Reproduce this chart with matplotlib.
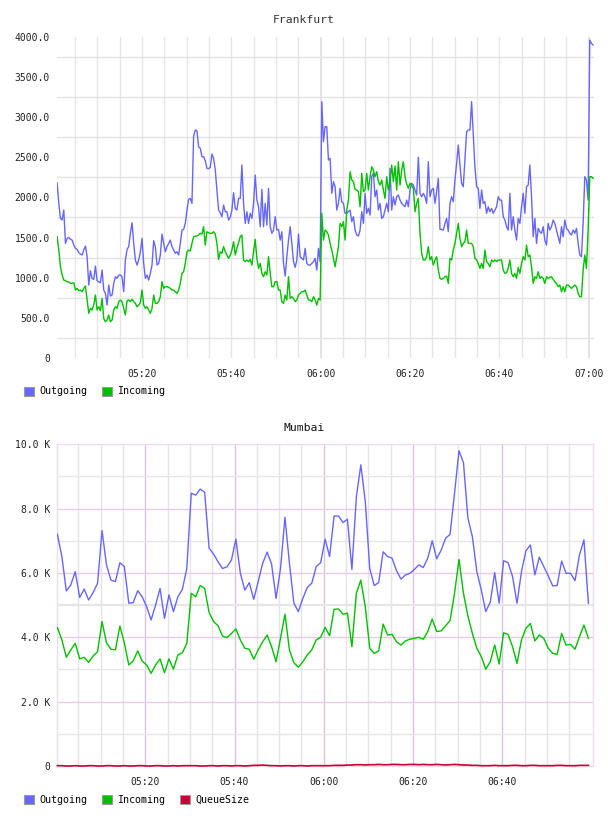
import numpy as np
import matplotlib
matplotlib.use('Agg')
import matplotlib.pyplot as plt
from matplotlib.patches import Patch

# ---------------- data ----------------
# Frankfurt (values, evenly spaced samples from ~05:01 to ~07:01)
fra_out = [
    2180, 1925, 1738, 1718, 1842, 1427, 1489, 1502, 1477, 1468,
    1406, 1365, 1352, 1311, 1294, 1282, 1344, 1394, 1261, 908,
    1087, 991, 979, 1145, 962, 950, 937, 1095, 846, 805,
    659, 908, 771, 784, 929, 1012, 991, 1033, 1033, 1012,
    825, 1220, 1352, 1386, 1552, 1684, 1427, 1220, 1157, 1220,
    1323, 1489, 1178, 991, 1033, 970, 1053, 1157, 1460, 1386,
    1157, 1178, 1282, 1543, 1427, 1323, 1386, 1427, 1468, 1386,
    1344, 1303, 1323, 1282, 1427, 1593, 1601, 1676, 1842, 1975,
    1987, 1925, 2763, 2838, 2830, 2630, 2610, 2506, 2506, 2456,
    2361, 2357, 2373, 2539, 2485, 2340, 2091, 1842, 1809, 1759,
    1904, 1821, 1821, 1718, 1751, 1842, 2058, 1863, 1842, 1987,
    1987, 2402, 1925, 1676, 1821, 1676, 1801, 1738, 1925, 2278,
    1966, 1883, 1635, 2099, 1635, 1925, 1655, 2112, 1635, 1552,
    1593, 1759, 1593, 1601, 1468, 1572, 1178, 1020, 1261, 1468,
    1635, 1427, 1199, 1128, 1220, 1543, 1261, 1240, 1220, 1365,
    1178, 1157, 1157, 1178, 1199, 1240, 1095, 1365, 1199, 3191,
    2693, 2880, 2880, 2464, 2485, 2050, 2195, 2133, 1842, 1925,
    2112, 1946, 1925, 1801, 1801, 1821, 1842, 1697, 1759, 1593,
    1531, 1518, 1593, 1821, 1676, 2050, 1801, 1863, 1780, 2257,
    2299, 2008, 2091, 1842, 1925, 1738, 1759, 1842, 1925, 1821,
    2361, 1842, 2008, 1904, 2008, 2029, 1966, 1925, 1904, 1883,
    1966, 1883, 2091, 2174, 2153, 2091, 2029, 2498, 2050, 2008,
    2050, 2008, 1925, 2444, 2008, 2091, 2112, 1925, 2070, 2236,
    1601, 1601, 1593, 1676, 1738, 1572, 1925, 2008, 1946, 2216,
    2423, 2651, 2402, 2174, 2133, 2485, 2817, 2838, 2838, 3191,
    2797, 2381, 2133, 2112, 1863, 2091, 1925, 1946, 1801, 1883,
    1821, 1863, 1801, 1842, 1883, 2008, 1966, 1966, 1759, 1718,
    1635, 1593, 2050, 1593, 1759, 1593, 1468, 1738, 1676, 1883,
    2050, 1801, 2133, 2153, 2402, 2008, 1510, 1738, 1427, 1614,
    1572, 1552, 1635, 1468, 1406, 1676, 1593, 1635, 1718, 1676,
    1593, 1510, 1427, 1635, 1510, 1718, 1614, 1593, 1552, 1531,
    1593, 1552, 1614, 1427, 1282, 1261, 1676, 2257, 2216, 1966,
    3958, 3917, 3896,
]
fra_in = [
    1510, 1344, 1136, 1033, 970, 962, 950, 946, 929, 929,
    937, 846, 867, 838, 846, 825, 867, 896, 722, 556,
    618, 597, 659, 784, 597, 638, 589, 742, 493, 452,
    473, 535, 452, 473, 597, 638, 618, 701, 722, 701,
    618, 535, 713, 722, 701, 730, 701, 680, 638, 659,
    688, 846, 659, 618, 638, 597, 556, 618, 784, 680,
    680, 701, 763, 950, 867, 888, 888, 879, 867, 846,
    846, 825, 805, 846, 929, 1053, 1074, 1178, 1323, 1344,
    1332, 1427, 1510, 1518, 1518, 1531, 1552, 1543, 1635, 1406,
    1572, 1560, 1552, 1552, 1572, 1543, 1427, 1228, 1323, 1303,
    1386, 1323, 1282, 1240, 1282, 1344, 1448, 1282, 1365, 1435,
    1510, 1531, 1220, 1199, 1220, 1199, 1228, 1157, 1323, 1477,
    1240, 1116, 1178, 1053, 1012, 1074, 1033, 1261, 1053, 888,
    888, 950, 950, 846, 846, 701, 680, 784, 722, 1012,
    742, 763, 742, 701, 722, 784, 805, 825, 825, 846,
    784, 722, 722, 701, 763, 722, 659, 742, 722, 1800,
    1468, 1593, 1572, 1531, 1427, 1344, 1240, 1136, 1261, 1386,
    1676, 1635, 1697, 1468, 1842, 1966, 2319, 2216, 2195, 2099,
    2091, 2070, 1883, 2299, 2070, 2091, 2299, 2091, 2257, 2381,
    2340, 2257, 2319, 2195, 2153, 2216, 2091, 1987, 2257, 2091,
    2195, 2402, 2195, 2390, 2091, 2444, 2153, 2340, 2444, 2257,
    2166, 2112, 2174, 2153, 2112, 1821, 1925, 1987, 1552, 1303,
    1220, 1220, 1261, 1386, 1220, 1261, 1157, 1220, 1261, 1095,
    991, 979, 991, 1012, 1020, 929, 1240, 1220, 1344, 1427,
    1552, 1676, 1489, 1386, 1427, 1448, 1593, 1427, 1427, 1427,
    1386, 1240, 1220, 1178, 1116, 1178, 1116, 1344, 1199, 1178,
    1136, 1220, 1199, 1220, 1199, 1220, 1220, 1220, 1095, 1053,
    1062, 1116, 1220, 1053, 1012, 1053, 991, 1128, 1053, 1178,
    1261, 1220, 1406, 1261, 1282, 1136, 929, 1012, 991, 1074,
    991, 1012, 991, 929, 1012, 991, 1004, 1012, 979, 950,
    929, 888, 908, 825, 888, 825, 908, 908, 888, 867,
    888, 908, 888, 805, 763, 763, 1095, 1282, 1116, 1593,
    2257, 2257, 2236,
]
fra_yticks = [0, 500, 1000, 1500, 2000, 2500, 3000, 3500, 4000]
fra_ylabels = ['0', '500.0', '1000.0', '1500.0', '2000.0', '2500.0',
               '3000.0', '3500.0', '4000.0']

# Mumbai (K, one sample per minute from 05:00)
mum_out = [
    7.20, 6.51, 5.44, 5.63, 6.04, 5.24, 5.50, 5.16, 5.39, 5.68,
    7.32, 6.25, 5.78, 5.73, 6.32, 6.20, 5.06, 5.08, 5.45, 5.26,
    4.95, 4.54, 5.00, 5.52, 4.59, 5.32, 4.80, 5.26, 5.49, 6.14,
    8.48, 8.42, 8.61, 8.51, 6.77, 6.59, 6.35, 6.14, 6.19, 6.40,
    7.05, 5.99, 5.47, 5.70, 5.18, 5.73, 6.30, 6.65, 6.28, 5.21,
    6.14, 7.73, 6.30, 5.06, 4.80, 5.21, 5.55, 5.68, 6.20,
    6.32, 7.05, 6.51, 7.77, 7.77, 7.57, 7.67, 6.11, 8.37, 9.36,
    8.22, 6.14, 5.61, 5.70, 6.66, 6.51, 6.46, 6.07, 5.81, 5.94,
    5.99, 6.11, 6.25, 6.17, 6.46, 7.00, 6.44, 6.71, 7.08, 7.20,
    8.48, 9.80, 9.43, 7.70, 7.13, 6.04, 5.47, 4.80, 5.09, 6.01,
    5.06, 6.38, 6.32, 5.89, 5.06, 6.04, 6.69, 6.87, 5.94, 6.49,
    6.20, 5.91, 5.60, 5.61, 6.37, 5.99, 5.99, 5.76, 6.56, 7.03,
    5.06,
]
mum_in = [
    4.30, 3.92, 3.38, 3.61, 3.81, 3.33, 3.38, 3.22, 3.42, 3.55,
    4.49, 3.83, 3.63, 3.61, 4.35, 3.83, 3.14, 3.27, 3.58, 3.26,
    3.14, 2.88, 3.14, 3.33, 2.90, 3.33, 3.01, 3.45, 3.52, 3.81,
    5.37, 5.26, 5.61, 5.52, 4.77, 4.49, 4.36, 4.04, 3.99, 4.12,
    4.26, 3.92, 3.66, 3.63, 3.32, 3.61, 3.86, 4.07, 3.71, 3.24,
    3.97, 4.72, 3.61, 3.21, 3.07, 3.24, 3.45, 3.61, 3.92,
    4.00, 4.31, 4.05, 4.87, 4.88, 4.72, 4.75, 3.71, 5.37, 5.78,
    4.95, 3.66, 3.50, 3.58, 4.41, 4.07, 4.09, 3.86, 3.76, 3.89,
    3.94, 3.97, 4.00, 3.94, 4.18, 4.57, 4.18, 4.20, 4.36, 4.52,
    5.37, 6.42, 5.37, 4.66, 4.12, 3.66, 3.40, 3.01, 3.24, 3.76,
    3.17, 4.14, 4.09, 3.71, 3.19, 3.92, 4.28, 4.43, 3.89, 4.07,
    3.97, 3.66, 3.50, 3.47, 4.12, 3.76, 3.78, 3.63, 4.02, 4.38,
    3.97,
]
mum_queue = [
    0.01, 0.01, 0.00, 0.00, 0.01, 0.00, 0.00, 0.01, 0.01, 0.00,
    0.00, 0.01, 0.01, 0.00, 0.00, 0.01, 0.00, 0.00, 0.01, 0.01,
    0.00, 0.00, 0.01, 0.01, 0.00, 0.00, 0.01, 0.00, 0.01, 0.01,
    0.01, 0.01, 0.00, 0.00, 0.01, 0.01, 0.00, 0.01, 0.01, 0.00,
    0.01, 0.01, 0.00, 0.01, 0.02, 0.02, 0.03, 0.02, 0.01, 0.01,
    0.00, 0.01, 0.01, 0.00, 0.01, 0.01, 0.00, 0.01, 0.01, 0.01,
    0.01, 0.01, 0.02, 0.02, 0.02, 0.03, 0.03, 0.04, 0.04, 0.03,
    0.04, 0.04, 0.05, 0.04, 0.04, 0.05, 0.05, 0.04, 0.04, 0.05,
    0.05, 0.04, 0.05, 0.04, 0.04, 0.05, 0.04, 0.03, 0.04, 0.05,
    0.04, 0.03, 0.03, 0.02, 0.02, 0.01, 0.01, 0.01, 0.02, 0.01,
    0.01, 0.01, 0.02, 0.02, 0.01, 0.01, 0.02, 0.02, 0.01, 0.01,
    0.01, 0.01, 0.02, 0.02, 0.01, 0.01, 0.01, 0.02, 0.02, 0.02,
]
mum_yticks = [0, 2, 4, 6, 8, 10]
mum_ylabels = ['0', '2.0 K', '4.0 K', '6.0 K', '8.0 K', '10.0 K']

# x axis: minutes after 05:00
fra_xticks = [20, 40, 60, 80, 100, 120]
fra_xlabels = ['05:20', '05:40', '06:00', '06:20', '06:40', '07:00']
mum_xticks = [20, 40, 60, 80, 100]
mum_xlabels = ['05:20', '05:40', '06:00', '06:20', '06:40']

series_names = ['Outgoing', 'Incoming', 'QueueSize']
series_colors = ['#6666ff', '#00c000', '#cc0033']

# ---------------- drawing ----------------
FONT = ['DejaVu Sans Mono', 'DejaVu Sans']
plt.rcParams['font.family'] = FONT
W, H = 608, 816
fig = plt.figure(figsize=(W / 100, H / 100), dpi=100)
TXT = '#222222'


def style_axes(ax):
    ax.tick_params(axis='both', length=0, labelsize=7, colors=TXT)
    ax.tick_params(axis='y', pad=5)
    ax.tick_params(axis='x', pad=8)
    ax.set_axisbelow(True)


# ---- Frankfurt ----
ax1 = fig.add_axes([57 / W, 1 - 358 / H, 537 / W, 321.3 / H])
fra_t = np.linspace(1.0, 121.0, len(fra_out))
for x in np.arange(5, 121, 5):
    hour = (x % 60 == 0)
    ax1.axvline(x, color='#e0e0e0' if hour else '#e6e6e6',
                lw=1.3 if hour else 1.0, zorder=0)
for y in np.arange(250, 4000, 500):
    ax1.axhline(y, color='#e3e3e3', lw=1.0, zorder=0)
ax1.plot(fra_t, fra_out, color=series_colors[0], lw=1.0, zorder=3)
ax1.plot(fra_t, fra_in, color=series_colors[1], lw=1.0, zorder=4)
ax1.set_xlim(0.97, 121.2)
ax1.set_ylim(0, 4000)
ax1.set_xticks(fra_xticks)
ax1.set_xticklabels(fra_xlabels)
ax1.set_yticks(fra_yticks)
ax1.set_yticklabels(fra_ylabels)
for s in ax1.spines.values():
    s.set_visible(False)
style_axes(ax1)
fig.text(0.5, 1 - 20 / H, 'Frankfurt', ha='center', va='center',
         fontsize=8.2, color='#333333')

h1 = [Patch(facecolor=series_colors[i], edgecolor='#999999', lw=0.8)
      for i in range(2)]
fig.legend(h1, series_names[:2], loc='upper left',
           bbox_to_anchor=(24 / W, 1 - 386.5 / H), ncol=2, frameon=False,
           fontsize=7.2, handlelength=1.0, handleheight=1.0,
           handletextpad=0.5, columnspacing=1.5, borderpad=0,
           borderaxespad=0)

# ---- Mumbai ----
ax2 = fig.add_axes([57 / W, 1 - 766 / H, 536.3 / W, 321.7 / H])
mum_t = 0.3 + np.arange(len(mum_out))
for x in np.arange(5, 120, 5):
    if x % 20 == 0:
        ax2.axvline(x, color='#d9c3dc', lw=1.0, zorder=0)
    else:
        ax2.axvline(x, color='#e6e2e8', lw=1.0, zorder=0)
for y in np.arange(1, 10, 2):
    ax2.axhline(y, color='#e6e6e6', lw=1.6 if y == 5 else 1.0, zorder=0)
for y in mum_yticks[1:-1]:
    ax2.axhline(y, color='#e6cce6', lw=1.0, zorder=0.5)
ax2.plot(mum_t, mum_out, color=series_colors[0], lw=1.0, zorder=3)
ax2.plot(mum_t, mum_in, color=series_colors[1], lw=1.0, zorder=4)
ax2.plot(mum_t, mum_queue, color=series_colors[2], lw=1.2, zorder=5,
         clip_on=False)
ax2.set_xlim(0.21, 120.4)
ax2.set_ylim(0, 10)
ax2.set_xticks(mum_xticks)
ax2.set_xticklabels(mum_xlabels)
ax2.set_yticks(mum_yticks)
ax2.set_yticklabels(mum_ylabels)
for s in ax2.spines.values():
    s.set_color('#eedcee')
    s.set_linewidth(1.0)
style_axes(ax2)
fig.text(0.5, 1 - 428 / H, 'Mumbai', ha='center', va='center',
         fontsize=8.2, color='#111111')

h2 = [Patch(facecolor=series_colors[i], edgecolor='#999999', lw=0.8)
      for i in range(3)]
fig.legend(h2, series_names, loc='upper left',
           bbox_to_anchor=(24 / W, 1 - 795 / H), ncol=3, frameon=False,
           fontsize=7.2, handlelength=1.0, handleheight=1.0,
           handletextpad=0.5, columnspacing=1.5, borderpad=0,
           borderaxespad=0)

fig.savefig('out.png', dpi=100, facecolor='white')
